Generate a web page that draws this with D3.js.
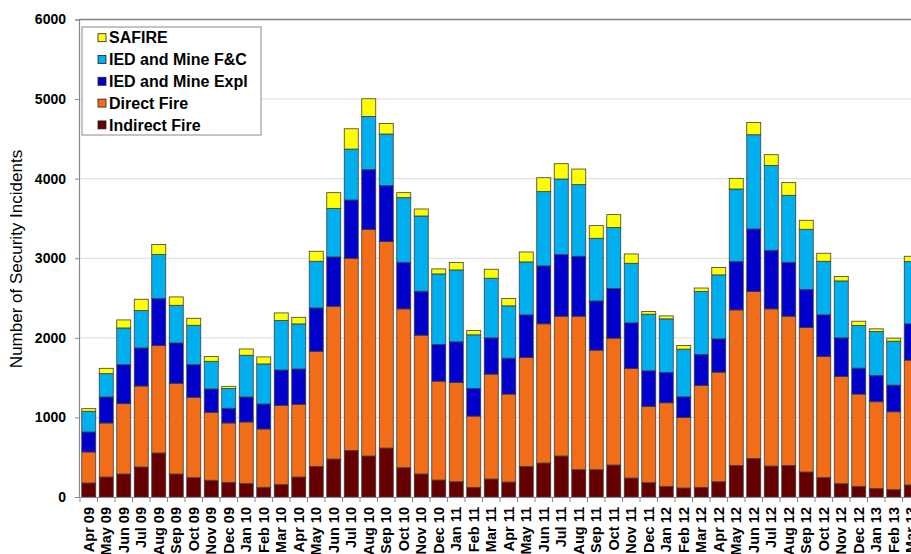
<!DOCTYPE html>
<html><head><meta charset="utf-8">
<script src="https://cdn.jsdelivr.net/npm/d3@7"></script>
<style>
html,body{margin:0;padding:0;background:#fff;overflow:hidden;}
svg{display:block;font-family:"Liberation Sans",Arial,sans-serif;}
</style></head>
<body><svg id="c" width="911" height="554"></svg>
<script>
const months = ["Apr 09","May 09","Jun 09","Jul 09","Aug 09","Sep 09","Oct 09","Nov 09","Dec 09","Jan 10","Feb 10","Mar 10",
"Apr 10","May 10","Jun 10","Jul 10","Aug 10","Sep 10","Oct 10","Nov 10","Dec 10","Jan 11","Feb 11","Mar 11",
"Apr 11","May 11","Jun 11","Jul 11","Aug 11","Sep 11","Oct 11","Nov 11","Dec 11","Jan 12","Feb 12","Mar 12",
"Apr 12","May 12","Jun 12","Jul 12","Aug 12","Sep 12","Oct 12","Nov 12","Dec 12","Jan 13","Feb 13","Mar 13"];

const indirectFire = [176,251,289,377,553,289,243,210,184,168,122,155,251,385,477,586,515,615,368,289,213,192,121,226,
188,385,427,515,343,343,402,238,180,134,113,121,192,397,485,389,397,314,243,167,134,105,92,151];
const directFire = [390,679,884,1018,1349,1140,1010,854,746,775,733,997,914,1446,1920,2414,2845,2594,1996,1744,1243,1247,896,1318,
1105,1368,1749,1757,1929,1502,1594,1377,958,1050,887,1281,1377,1954,2097,1975,1875,1816,1523,1348,1159,1092,979,1569];
const iedExpl = [251,327,490,478,591,507,410,294,185,314,314,444,444,545,620,732,753,703,586,553,460,511,347,456,
452,536,728,774,753,619,623,573,448,381,259,389,418,607,786,736,678,477,523,485,326,330,335,456];
const iedFC = [260,293,461,469,553,473,495,347,247,524,503,621,566,586,610,640,669,649,811,945,887,903,674,749,
657,665,933,950,900,787,766,749,711,673,599,791,804,912,1184,1067,841,757,673,715,536,552,552,782];
const safire = [33,67,101,143,126,105,88,59,29,79,88,96,83,126,197,255,222,133,63,88,63,93,54,113,
92,125,175,192,196,159,163,117,33,38,46,44,92,134,155,134,159,113,101,55,54,34,38,67];

const seriesKeys = ["Indirect Fire","Direct Fire","IED and Mine Expl","IED and Mine F&C","SAFIRE"];
const seriesColors = ["#660000","#F26D18","#0000CC","#00B0EE","#FFFF00"];
const yTicks = [0,1000,2000,3000,4000,5000,6000];

const seriesArrays = [indirectFire, directFire, iedExpl, iedFC, safire];
const rows = months.map((m,i)=>{ const r={month:m}; seriesKeys.forEach((k,j)=>r[k]=seriesArrays[j][i]); return r; });
const stacked = d3.stack().keys(seriesKeys)(rows);

const svg = d3.select("#c");
const x = d3.scaleBand().domain(months).range([80,920]).paddingInner(0.2).paddingOuter(0.1);
const y = d3.scaleLinear().domain([0,6000]).range([497,19.5]);
const color = d3.scaleOrdinal().domain(seriesKeys).range(seriesColors);

// gridlines
svg.append("g").selectAll("line").data(yTicks.filter(t=>t>0 && t<6000)).join("line")
  .attr("x1",79).attr("x2",911).attr("y1",d=>y(d)).attr("y2",d=>y(d))
  .attr("stroke","#dcdcdc").attr("stroke-width",1);
svg.append("line").attr("x1",79).attr("x2",911).attr("y1",y(6000)).attr("y2",y(6000))
  .attr("stroke","#808080").attr("stroke-width",1.6);

// bars
svg.append("g").selectAll("g").data(stacked).join("g")
  .attr("fill",d=>color(d.key))
  .selectAll("rect").data(d=>d).join("rect")
  .attr("x",d=>x(d.data.month))
  .attr("width",x.bandwidth())
  .attr("y",d=>y(d[1]))
  .attr("height",d=>y(d[0])-y(d[1]))
  .attr("stroke","#3c3c3c").attr("stroke-width",0.8);

// y axis
const yAxis = svg.append("g").attr("transform","translate(79,0)")
  .call(d3.axisLeft(y).tickValues(yTicks).tickSize(4).tickPadding(9).tickFormat(d3.format("d")));
yAxis.select(".domain").attr("stroke","#888").attr("stroke-width",1.2);
yAxis.selectAll(".tick line").attr("stroke","#888");
yAxis.selectAll("text").attr("font-size",14).attr("font-weight","bold").attr("fill","#000")
  .attr("font-family","Liberation Sans, Arial, sans-serif");

// x axis
const xAxis = svg.append("g").attr("transform","translate(0,497)")
  .call(d3.axisBottom(x).tickSize(0).tickSizeOuter(0));
xAxis.select(".domain").attr("stroke","#888").attr("stroke-width",1.2);
xAxis.selectAll(".tick text")
  .attr("font-size",14.5).attr("font-weight","bold").attr("fill","#000")
  .attr("font-family","Liberation Sans, Arial, sans-serif")
  .attr("text-anchor","end").attr("transform","rotate(-90)")
  .attr("x",-10).attr("y",0).attr("dy","0.36em");
// boundary tick marks
svg.append("g").selectAll("line").data(months).join("line")
  .attr("x1",d=>x(d)-x.step()*x.paddingInner()/2).attr("x2",d=>x(d)-x.step()*x.paddingInner()/2)
  .attr("y1",497).attr("y2",502).attr("stroke","#888");

// y label
svg.append("text").attr("transform","translate(22,259) rotate(-90)")
  .attr("text-anchor","middle").attr("font-size",17).attr("fill","#000")
  .text("Number of Security Incidents");

// legend
const lg = svg.append("g");
lg.append("rect").attr("x",82).attr("y",27).attr("width",179).attr("height",108)
  .attr("fill","#fff").attr("stroke","#8a8a8a").attr("stroke-width",1);
const legendOrder = seriesKeys.slice().reverse();
const li = lg.selectAll("g").data(legendOrder).join("g")
  .attr("transform",(d,i)=>`translate(0,${37.7+i*21.8})`);
li.append("rect").attr("x",98).attr("y",-4).attr("width",8).attr("height",8)
  .attr("fill",d=>color(d)).attr("stroke","#222").attr("stroke-width",0.8);
li.append("text").attr("x",109).attr("dy","0.36em").attr("font-size",16).attr("font-weight","bold")
  .attr("fill","#000").text(d=>d);
</script></body></html>
